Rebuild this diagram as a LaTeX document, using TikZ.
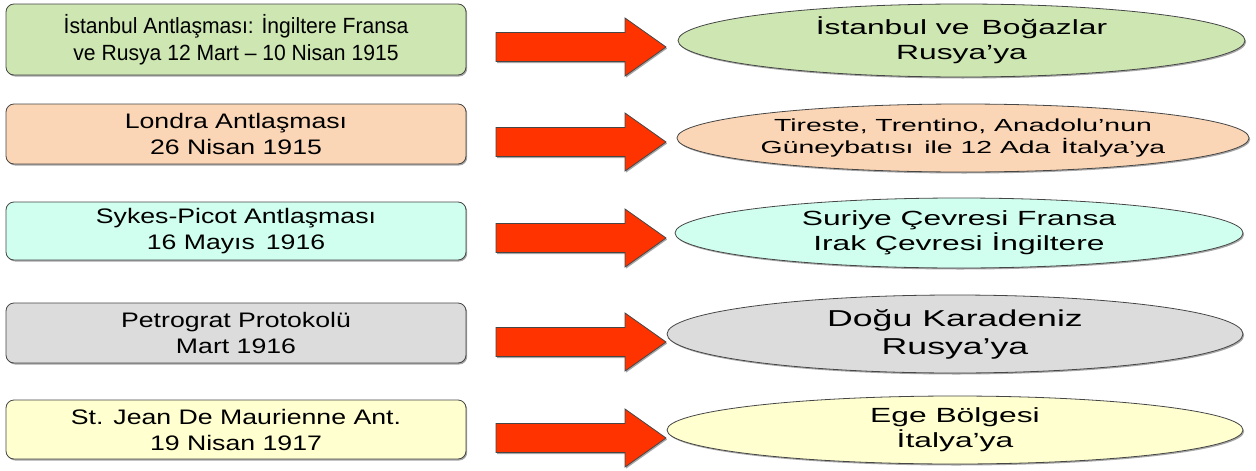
\documentclass[tikz,border=0pt]{standalone}
\usepackage{fontspec}
\setmainfont{Liberation Sans}
\newfontfamily\narrowfont[FakeStretch=0.96]{Liberation Sans}
\newfontfamily\boxfont[FakeStretch=1.27]{Liberation Sans}
\newfontfamily\ellfont[FakeStretch=1.55]{Liberation Sans}
\newfontfamily\ellfontB[FakeStretch=1.62]{Liberation Sans}
\usetikzlibrary{shapes.geometric,shadows}
\definecolor{cgreen}{RGB}{205,230,178}
\definecolor{cpeach}{RGB}{251,214,182}
\definecolor{ccyan}{RGB}{208,255,240}
\definecolor{cgrey}{RGB}{220,220,220}
\definecolor{cyellow}{RGB}{255,255,208}
\definecolor{cred}{RGB}{255,51,0}
\definecolor{cline}{RGB}{70,70,70}
\newcommand\blkarrow[1]{\draw[blk] (496,#1-14.5) -- (625,#1-14.5) -- (625,#1-29) -- (666,#1) -- (625,#1+29) -- (625,#1+14.5) -- (496,#1+14.5) -- cycle;}
\begin{document}
\begin{tikzpicture}[x=1pt,y=-1pt,
  shd/.style={drop shadow={shadow xshift=1.2pt,shadow yshift=-1.5pt,opacity=0.35,fill=black}},
  leftbox/.style={draw=cline,line width=0.8pt,rounded corners=8pt,minimum width=460pt,inner sep=0pt,align=center,shd},
  boxtxt/.style={font=\boxfont\fontsize{21}{26}\selectfont},
  rightell/.style={ellipse,draw=cline,line width=0.8pt,inner sep=0pt,align=center,shd},
  elltxt/.style={font=\ellfont\fontsize{20.5}{25}\selectfont},
  blk/.style={fill=cred,draw=cline,line width=0.8pt,line join=miter,shd}
]
\useasboundingbox (0,0) rectangle (1256,471);

\node[leftbox,fill=cgreen,minimum height=71pt,font=\narrowfont\fontsize{22}{27}\selectfont] (b1) at (236,39.5) {İstanbul Antlaşması: İngiltere Fransa\\ve Rusya 12 Mart – 10 Nisan 1915};
\node[leftbox,fill=cpeach,minimum height=60pt,boxtxt] (b2) at (236,134) {Londra Antlaşması\\26 Nisan 1915};
\node[leftbox,fill=ccyan,minimum height=58pt,boxtxt] (b3) at (236,231) {Sykes-Picot Antlaşması\\16 Mayıs\, 1916};
\node[leftbox,fill=cgrey,minimum height=60pt,boxtxt] (b4) at (236,333) {Petrograt Protokolü\\Mart 1916};
\node[leftbox,fill=cyellow,minimum height=59pt,boxtxt] (b5) at (236,429.5) {St. Jean De Maurienne Ant.\\19 Nisan 1917};

\blkarrow{47}
\blkarrow{142}
\blkarrow{238}
\blkarrow{342}
\blkarrow{438}

\node[rightell,fill=cgreen,minimum width=567pt,minimum height=73pt,elltxt] (e1) at (961.5,40.5) {İstanbul ve\, Boğazlar\\Rusya’ya};
\node[rightell,fill=cpeach,minimum width=560pt,minimum height=68pt,font=\ellfontB\fontsize{17.5}{22}\selectfont] (e2) at (963,138) {Tireste, Trentino, Anadolu’nun\\Güneybatısı\, ile 12 Ada\, İtalya’ya};
\node[rightell,fill=ccyan,minimum width=568pt,minimum height=70pt,elltxt] (e3) at (959,233) {Suriye Çevresi Fransa\\Irak Çevresi İngiltere};
\node[rightell,fill=cgrey,minimum width=576pt,minimum height=78pt,font=\ellfont\fontsize{23}{28}\selectfont] (e4) at (955,334) {Doğu Karadeniz\\Rusya’ya};
\node[rightell,fill=cyellow,minimum width=576pt,minimum height=68pt,elltxt] (e5) at (955,430) {Ege Bölgesi\\İtalya’ya};
\end{tikzpicture}
\end{document}
